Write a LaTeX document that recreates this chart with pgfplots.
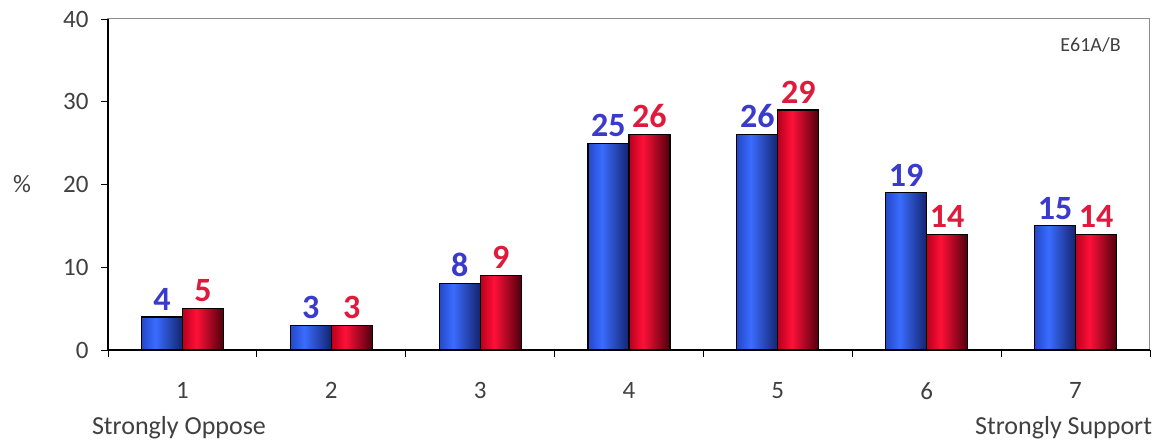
\documentclass[border=0pt]{standalone}
\usepackage{pgfplots}
\pgfplotsset{compat=1.18}
\usepackage{fontspec}
\setmainfont{Carlito}

\definecolor{ticktext}{HTML}{404040}
\definecolor{bluelab}{HTML}{3A3ACC}
\definecolor{redlab}{HTML}{E01A3C}
\definecolor{frame}{HTML}{8C8C8C}
\definecolor{bL}{HTML}{2448C8}
\definecolor{bM}{HTML}{3A6CFF}
\definecolor{bR}{HTML}{14246E}
\definecolor{rL}{HTML}{B8001E}
\definecolor{rM}{HTML}{FF1038}
\definecolor{rR}{HTML}{4E000C}

% Cylinder-like left-to-right shading of the bars
\pgfdeclarehorizontalshading{blueshade}{100bp}{color(0bp)=(bL); color(25bp)=(bL); color(42bp)=(bM); color(75bp)=(bR); color(100bp)=(bR)}
\pgfdeclarehorizontalshading{redshade}{100bp}{color(0bp)=(rL); color(25bp)=(rL); color(42bp)=(rM); color(75bp)=(rR); color(100bp)=(rR)}

\pgfplotstableread{
x A B
1 4 5
2 3 3
3 8 9
4 25 26
5 26 29
6 19 14
7 15 14
}\survey

\begin{document}
\begin{tikzpicture}
\useasboundingbox (-108pt,-94pt) rectangle (1061pt,350pt);
\begin{axis}[
  name=ax,
  scale only axis,
  width=1042pt, height=331pt,
  xmin=0.5, xmax=7.5,
  ymin=0, ymax=40,
  ytick={0,10,...,40},
  xtick={1,...,7},
  minor xtick={0.5,1.5,...,7.5},
  major x tick style={draw=none},
  minor tick length=7pt,
  major tick length=7pt,
  tick align=outside,
  xtick pos=bottom, ytick pos=left,
  axis line style={draw=frame, line width=1pt},
  tick style={black, line width=0.8pt},
  ticklabel style={font=\fontsize{25}{28}\selectfont, text=ticktext},
  /pgf/number format/assume math mode=true,
  xticklabel style={yshift=-22pt},
  yticklabel style={xshift=-9pt},
  bar width=41pt,
  clip=false,
  every node near coord/.append style={font=\bfseries\fontsize{34}{34}\selectfont, anchor=south, inner sep=1pt, yshift=5pt},
]
% one bar per plot so that each bar carries its own shading
\pgfplotsinvokeforeach{1,...,7}{
  \addplot[ybar, bar shift=-20.5pt, draw=black, line width=1.2pt, shading=blueshade,
    nodes near coords, every node near coord/.append style={text=bluelab, xshift=-20.5pt},
    restrict x to domain=#1:#1] table[x=x, y=A] {\survey};
  \addplot[ybar, bar shift=20.5pt, draw=black, line width=1.2pt, shading=redshade,
    nodes near coords, every node near coord/.append style={text=redlab, xshift=20.5pt},
    restrict x to domain=#1:#1] table[x=x, y=B] {\survey};
}

% dark left and bottom axis lines over the light frame
\draw[black, line width=1.3pt] (rel axis cs:0,1) -- (rel axis cs:0,0) -- (rel axis cs:1,0);

\node[font=\fontsize{25}{28}\selectfont, text=ticktext] at (rel axis cs:-0.0825,0.5) {\%};
\node[font=\fontsize{20}{24}\selectfont, text=ticktext] at (rel axis cs:0.943,0.921) {E61A/B};
\node[font=\fontsize{26}{28}\selectfont, text=ticktext] at (axis cs:0.977,-9.45) {Strongly Oppose};
\node[font=\fontsize{26}{28}\selectfont, text=ticktext] at (axis cs:6.92,-9.45) {Strongly Support};
\end{axis}
\end{tikzpicture}
\end{document}
